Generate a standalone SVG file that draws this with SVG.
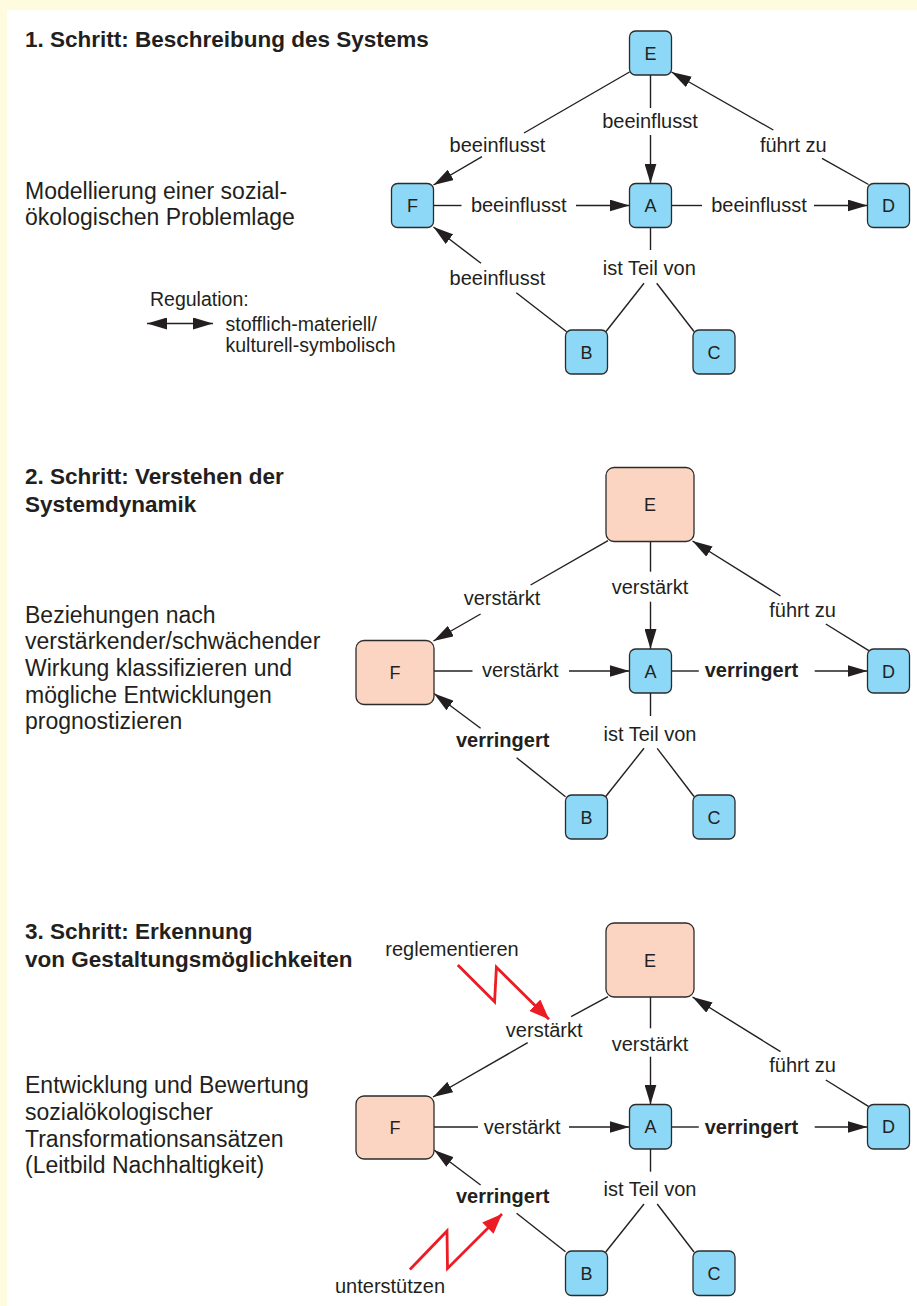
<svg xmlns="http://www.w3.org/2000/svg" width="917" height="1306" viewBox="0 0 917 1306">
<defs>
<style>
text{font-family:"Liberation Sans",Arial,sans-serif;fill:#231f20}
.title{font-size:22.5px;font-weight:bold}
.body{font-size:23px}
.lbl{font-size:20px;text-anchor:middle}
.b{font-weight:bold}
.leg{font-size:19.5px}
.nl{font-size:18px;text-anchor:middle}
.blue{fill:#8dd8f6;stroke:#2b2b2b;stroke-width:1.3}
.peach{fill:#fcd4c2;stroke:#2b2b2b;stroke-width:1.3}
.ln{stroke:#231f20;stroke-width:1.4;fill:none}
.ar{stroke:#231f20;stroke-width:1.4;fill:none;marker-end:url(#ah)}
.red{stroke:#ed1c24;stroke-width:2.8;fill:none;stroke-linejoin:miter;marker-end:url(#rh)}
</style>
<marker id="ah" markerUnits="userSpaceOnUse" markerWidth="20" markerHeight="12" refX="20" refY="6" orient="auto"><path d="M0,0 L20,6 L0,12 z" fill="#231f20"/></marker>
<marker id="ahs" markerUnits="userSpaceOnUse" markerWidth="20" markerHeight="12" refX="0" refY="6" orient="auto"><path d="M20,0 L0,6 L20,12 z" fill="#231f20"/></marker>
<marker id="rh" markerUnits="userSpaceOnUse" markerWidth="20" markerHeight="16" refX="20" refY="8" orient="auto"><path d="M0,0 L20,8 L0,16 z" fill="#ed1c24"/></marker>
</defs>
<rect x="0" y="0" width="917" height="1306" fill="#fffbdf"/>
<rect x="7" y="10" width="910" height="1296" fill="#ffffff"/>

<g id="texts">
<text class="title" x="25" y="46.5">1. Schritt: Beschreibung des Systems</text>
<text class="body" x="25" y="198.5">Modellierung einer sozial-</text>
<text class="body" x="25" y="225">ökologischen Problemlage</text>
<text class="leg" x="150" y="305.5">Regulation:</text>
<text class="leg" x="225.5" y="330.5">stofflich-materiell/</text>
<text class="leg" x="225.5" y="351.5">kulturell-symbolisch</text>

<text class="title" x="25" y="484">2. Schritt: Verstehen der</text>
<text class="title" x="25" y="511.7">Systemdynamik</text>
<text class="body" x="25" y="622.7">Beziehungen nach</text>
<text class="body" x="25" y="649.3">verstärkender/schwächender</text>
<text class="body" x="25" y="675.9">Wirkung klassifizieren und</text>
<text class="body" x="25" y="702.5">mögliche Entwicklungen</text>
<text class="body" x="25" y="729.1">prognostizieren</text>

<text class="title" x="25" y="939">3. Schritt: Erkennung</text>
<text class="title" x="25" y="967.3">von Gestaltungsmöglichkeiten</text>
<text class="body" x="25" y="1093.3">Entwicklung und Bewertung</text>
<text class="body" x="25" y="1120">sozialökologischer</text>
<text class="body" x="25" y="1146.7">Transformationsansätzen</text>
<text class="body" x="25" y="1173.3">(Leitbild Nachhaltigkeit)</text>
</g>

<g id="legend">
<line x1="147" y1="323.5" x2="213" y2="323.5" stroke="#231f20" stroke-width="1.4" marker-start="url(#ahs)" marker-end="url(#ah)"/>
</g>

<g id="connectors">
<!-- section 1 -->
<line class="ln" x1="629.5" y1="72" x2="524" y2="133"/>
<line class="ar" x1="482" y1="156.7" x2="433.5" y2="185"/>
<line class="ln" x1="650.5" y1="75" x2="650.5" y2="108"/>
<line class="ar" x1="650.5" y1="135" x2="650.5" y2="183.5"/>
<line class="ln" x1="868.5" y1="184.5" x2="822" y2="158.3"/>
<line class="ar" x1="773.3" y1="130" x2="671.5" y2="72"/>
<line class="ln" x1="433.5" y1="205.5" x2="461.5" y2="205.5"/>
<line class="ar" x1="576" y1="205.5" x2="629.5" y2="205.5"/>
<line class="ln" x1="671.5" y1="205.5" x2="702" y2="205.5"/>
<line class="ar" x1="814" y1="205.5" x2="867.5" y2="205.5"/>
<line class="ln" x1="566.6" y1="331.7" x2="516.3" y2="292.7"/>
<line class="ar" x1="481" y1="263.3" x2="433.5" y2="227"/>
<line class="ln" x1="650.5" y1="227.5" x2="650.5" y2="250"/>
<line class="ln" x1="644" y1="283.3" x2="606" y2="331.5"/>
<line class="ln" x1="656.7" y1="283.3" x2="694" y2="331.5"/>
<text class="lbl" x="497.4" y="151.7">beeinflusst</text>
<text class="lbl" x="650" y="128.3">beeinflusst</text>
<text class="lbl" x="793.3" y="151.7">führt zu</text>
<text class="lbl" x="518.7" y="211.7">beeinflusst</text>
<text class="lbl" x="759" y="211.7">beeinflusst</text>
<text class="lbl" x="497.4" y="285">beeinflusst</text>
<text class="lbl" x="649.3" y="275">ist Teil von</text>

<!-- section 2 -->
<line class="ln" x1="608" y1="540.7" x2="530.6" y2="585"/>
<line class="ar" x1="480.6" y1="614" x2="433.5" y2="641"/>
<line class="ln" x1="650.5" y1="541.5" x2="650.5" y2="571.7"/>
<line class="ar" x1="650.5" y1="601.7" x2="650.5" y2="649"/>
<line class="ln" x1="868.8" y1="650.7" x2="825.8" y2="624"/>
<line class="ar" x1="780.5" y1="596" x2="692.5" y2="541"/>
<line class="ln" x1="434" y1="671" x2="472.5" y2="671"/>
<line class="ar" x1="569" y1="671" x2="629.5" y2="671"/>
<line class="ln" x1="671.5" y1="671" x2="698.8" y2="671"/>
<line class="ar" x1="814.7" y1="671" x2="867.5" y2="671"/>
<line class="ln" x1="565.5" y1="796.7" x2="516.6" y2="757.7"/>
<line class="ar" x1="480.6" y1="728.3" x2="434" y2="693.5"/>
<line class="ln" x1="650.5" y1="693" x2="650.5" y2="716"/>
<line class="ln" x1="644" y1="748.3" x2="605.7" y2="796.5"/>
<line class="ln" x1="657.2" y1="748.3" x2="694" y2="796.5"/>
<text class="lbl" x="502" y="605">verstärkt</text>
<text class="lbl" x="650" y="594.3">verstärkt</text>
<text class="lbl" x="802.6" y="616.7">führt zu</text>
<text class="lbl" x="520.3" y="677.3">verstärkt</text>
<text class="lbl b" x="751.4" y="677.3">verringert</text>
<text class="lbl b" x="502.7" y="747.3">verringert</text>
<text class="lbl" x="650" y="741">ist Teil von</text>

<!-- section 3 -->
<line class="ln" x1="608" y1="996.7" x2="571.1" y2="1016.7"/>
<line class="ar" x1="527.7" y1="1042.7" x2="433" y2="1097"/>
<line class="ln" x1="650.5" y1="997" x2="650.5" y2="1028.3"/>
<line class="ar" x1="650.5" y1="1056.7" x2="650.5" y2="1104.5"/>
<line class="ln" x1="868.8" y1="1106.7" x2="825.8" y2="1080"/>
<line class="ar" x1="780.5" y1="1051.7" x2="692.5" y2="997"/>
<line class="ln" x1="434" y1="1127" x2="478" y2="1127"/>
<line class="ar" x1="569" y1="1127" x2="629.5" y2="1127"/>
<line class="ln" x1="671.5" y1="1127" x2="698.8" y2="1127"/>
<line class="ar" x1="814.7" y1="1127" x2="867.5" y2="1127"/>
<line class="ln" x1="565.5" y1="1251.7" x2="516.6" y2="1213.3"/>
<line class="ar" x1="480.6" y1="1185" x2="434" y2="1150"/>
<line class="ln" x1="650.5" y1="1149" x2="650.5" y2="1171.7"/>
<line class="ln" x1="644" y1="1204" x2="605.7" y2="1252"/>
<line class="ln" x1="657.2" y1="1204" x2="694" y2="1252"/>
<text class="lbl" x="544.2" y="1036.7">verstärkt</text>
<text class="lbl" x="650" y="1050.7">verstärkt</text>
<text class="lbl" x="802.6" y="1071.7">führt zu</text>
<text class="lbl" x="522.2" y="1133.5">verstärkt</text>
<text class="lbl b" x="751.4" y="1133.5">verringert</text>
<text class="lbl b" x="502.7" y="1202.7">verringert</text>
<text class="lbl" x="650" y="1196">ist Teil von</text>

<polyline class="red" points="457.8,965 494.6,1001.7 496.4,967.3 549,1019.3"/>
<polyline class="red" points="409.9,1269.5 447,1231 447.5,1268.5 502,1214"/>
<text class="lbl" x="452" y="956">reglementieren</text>
<text class="lbl" x="390" y="1292.5">unterstützen</text>
</g>

<g id="node-E1"><rect class="blue" x="629.5" y="31" width="42" height="44" rx="6"/><text class="nl" x="650.5" y="59.5">E</text></g>
<g id="node-F1"><rect class="blue" x="391.5" y="183.5" width="42" height="44" rx="6"/><text class="nl" x="412.5" y="212">F</text></g>
<g id="node-A1"><rect class="blue" x="629.5" y="183.5" width="42" height="44" rx="6"/><text class="nl" x="650.5" y="212">A</text></g>
<g id="node-D1"><rect class="blue" x="867.5" y="183.5" width="42" height="44" rx="6"/><text class="nl" x="888.5" y="212">D</text></g>
<g id="node-B1"><rect class="blue" x="565.5" y="330" width="42" height="44" rx="6"/><text class="nl" x="586.5" y="358.5">B</text></g>
<g id="node-C1"><rect class="blue" x="693" y="330" width="42" height="44" rx="6"/><text class="nl" x="714" y="358.5">C</text></g>

<g id="node-E2"><rect class="peach" x="606" y="467.5" width="88" height="74" rx="8"/><text class="nl" x="650" y="511">E</text></g>
<g id="node-F2"><rect class="peach" x="356" y="640.5" width="78" height="64" rx="8"/><text class="nl" x="395" y="679">F</text></g>
<g id="node-A2"><rect class="blue" x="629.5" y="649" width="42" height="44" rx="6"/><text class="nl" x="650.5" y="677.5">A</text></g>
<g id="node-D2"><rect class="blue" x="867.5" y="649" width="42" height="44" rx="6"/><text class="nl" x="888.5" y="677.5">D</text></g>
<g id="node-B2"><rect class="blue" x="565.5" y="795" width="42" height="44" rx="6"/><text class="nl" x="586.5" y="823.5">B</text></g>
<g id="node-C2"><rect class="blue" x="693" y="795" width="42" height="44" rx="6"/><text class="nl" x="714" y="823.5">C</text></g>

<g id="node-E3"><rect class="peach" x="606" y="923" width="88" height="74" rx="8"/><text class="nl" x="650" y="966.5">E</text></g>
<g id="node-F3"><rect class="peach" x="356" y="1096" width="78" height="63" rx="8"/><text class="nl" x="395" y="1134">F</text></g>
<g id="node-A3"><rect class="blue" x="629.5" y="1104.5" width="42" height="44.5" rx="6"/><text class="nl" x="650.5" y="1133.3">A</text></g>
<g id="node-D3"><rect class="blue" x="867.5" y="1104.5" width="42" height="44.5" rx="6"/><text class="nl" x="888.5" y="1133.3">D</text></g>
<g id="node-B3"><rect class="blue" x="565.5" y="1251" width="42" height="44.5" rx="6"/><text class="nl" x="586.5" y="1279.8">B</text></g>
<g id="node-C3"><rect class="blue" x="693" y="1251" width="42" height="44.5" rx="6"/><text class="nl" x="714" y="1279.8">C</text></g>
</svg>
